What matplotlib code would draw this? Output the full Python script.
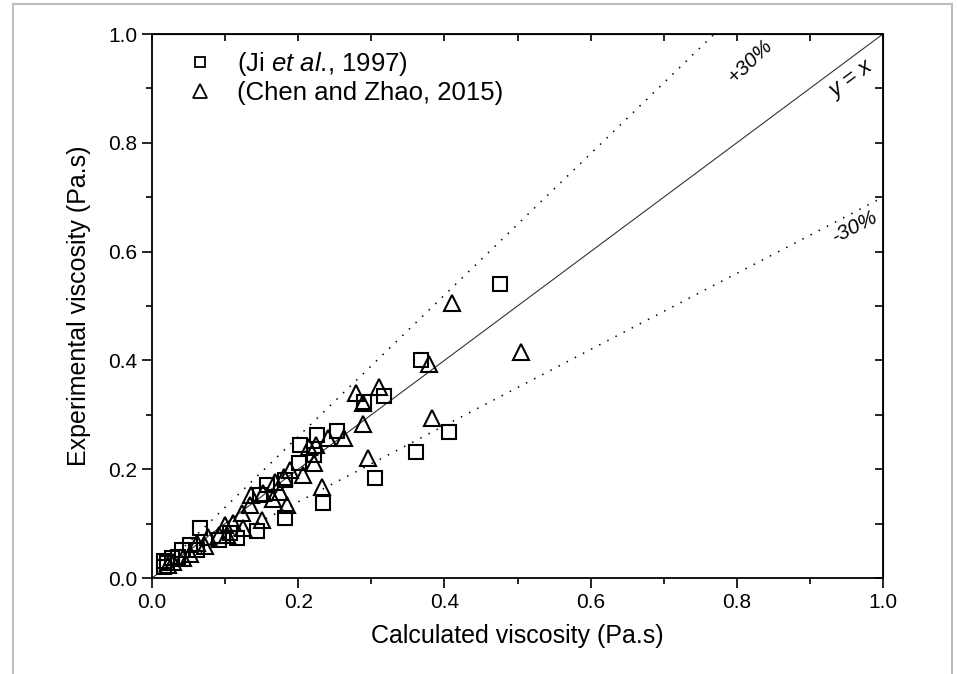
import matplotlib
matplotlib.use("Agg")
import matplotlib.pyplot as plt
from matplotlib.lines import Line2D
import numpy as np

plt.rcParams['font.family'] = ['Liberation Sans', 'DejaVu Sans']
plt.rcParams['mathtext.fontset'] = 'custom'
plt.rcParams['mathtext.rm'] = 'Liberation Sans'
plt.rcParams['mathtext.it'] = 'Liberation Sans:italic'

# Ji et al., 1997 (squares): calculated, experimental
ji_calc = [0.476, 0.368, 0.318, 0.290, 0.406, 0.361, 0.305, 0.253, 0.226, 0.202,
           0.221, 0.201, 0.234, 0.182, 0.065, 0.144, 0.182, 0.158, 0.148, 0.116,
           0.091, 0.052, 0.041, 0.027, 0.020, 0.016, 0.016, 0.061, 0.036, 0.107]
ji_exp = [0.540, 0.401, 0.335, 0.324, 0.268, 0.232, 0.183, 0.270, 0.263, 0.244,
          0.226, 0.211, 0.138, 0.180, 0.092, 0.086, 0.110, 0.171, 0.153, 0.073,
          0.070, 0.061, 0.051, 0.036, 0.027, 0.021, 0.031, 0.051, 0.039, 0.082]

# Chen and Zhao, 2015 (triangles)
cz_calc = [0.410, 0.505, 0.379, 0.311, 0.279, 0.288, 0.288, 0.383, 0.296, 0.232,
           0.262, 0.241, 0.225, 0.215, 0.222, 0.189, 0.206, 0.180, 0.168, 0.175,
           0.184, 0.166, 0.152, 0.150, 0.134, 0.123, 0.125, 0.111, 0.100, 0.102,
           0.091, 0.077, 0.072, 0.061, 0.052, 0.043, 0.029, 0.022, 0.136]
cz_exp = [0.506, 0.415, 0.393, 0.352, 0.340, 0.321, 0.284, 0.294, 0.220, 0.167,
          0.257, 0.257, 0.244, 0.241, 0.211, 0.199, 0.189, 0.186, 0.177, 0.159,
          0.134, 0.146, 0.156, 0.107, 0.134, 0.119, 0.091, 0.101, 0.097, 0.079,
          0.079, 0.076, 0.058, 0.064, 0.045, 0.036, 0.030, 0.024, 0.153]

fig = plt.figure(figsize=(9.57, 6.74), dpi=100)
ax = fig.add_axes([152/957, 1-578/674, 731/957, 544/674])

# light grey frame round the figure (open at the bottom)
frame_c = '#bcbcc4'
fig.add_artist(Line2D([13/957, 13/957], [0, 1-4/674], color=frame_c, lw=1.5))
fig.add_artist(Line2D([952/957, 952/957], [0, 1-4/674], color=frame_c, lw=1.5))
fig.add_artist(Line2D([13/957, 952/957], [1-4/674, 1-4/674], color=frame_c, lw=1.5))

xx = np.array([0, 1.0])
ax.plot(xx, xx, color='#333333', lw=0.8)
ax.plot(xx, 1.3*xx, color='black', lw=1.1, ls=(0, (1, 5)))
ax.plot(xx, 0.7*xx, color='black', lw=1.1, ls=(0, (1, 5)))

ax.plot(ji_calc, ji_exp, ls='none', marker='s', ms=9.5, mfc='none',
        mec='black', mew=1.5, label='(Ji $\\mathit{et}$ $\\mathit{al}$., 1997)')
ax.plot(cz_calc, cz_exp, ls='none', marker='^', ms=11, mfc='none',
        mec='black', mew=1.5, label='(Chen and Zhao, 2015)')

ax.set_xlim(0, 1)
ax.set_ylim(0, 1)
ax.set_xticks(np.arange(0, 1.01, 0.2))
ax.set_yticks(np.arange(0, 1.01, 0.2))
ax.set_xticks(np.arange(0.1, 1.0, 0.2), minor=True)
ax.set_yticks(np.arange(0.1, 1.0, 0.2), minor=True)
ax.tick_params(which='major', direction='out', length=7, width=1.2, labelsize=15)
ax.tick_params(which='minor', direction='out', length=4, width=1.2)
for s in ax.spines.values():
    s.set_linewidth(1.3)

top = ax.secondary_xaxis('top')
top.set_xticks(np.arange(0, 1.01, 0.1))
top.tick_params(direction='in', length=5, width=1.2, labeltop=False)
right = ax.secondary_yaxis('right')
right.set_yticks(np.arange(0, 1.01, 0.1))
right.tick_params(direction='in', length=6, width=1.2, labelright=False)

ax.set_xlabel('Calculated viscosity (Pa.s)', fontsize=18, labelpad=9)
ax.set_ylabel('Experimental viscosity (Pa.s)', fontsize=18, labelpad=12)

ax.text(0.958, 0.915, '$y$ = $x$', rotation=36.6, ha='center', va='center', fontsize=16)
ax.text(0.818, 0.950, '+30%', rotation=44, ha='center', va='center',
        fontsize=15, style='italic')
ax.text(0.962, 0.646, '-30%', rotation=27.5, ha='center', va='center',
        fontsize=15, style='italic')

leg = ax.legend(loc='upper left', bbox_to_anchor=(0.044, 0.970), frameon=False,
                fontsize=18.5, borderaxespad=0, borderpad=0, handletextpad=0.84,
                labelspacing=0.12, handlelength=1.2)
leg.legend_handles[0].set_markersize(7.5)
leg.legend_handles[1].set_markersize(10)
for h in leg.legend_handles:
    h.set_markeredgewidth(1.3)

fig.savefig('out.png', dpi=100)
